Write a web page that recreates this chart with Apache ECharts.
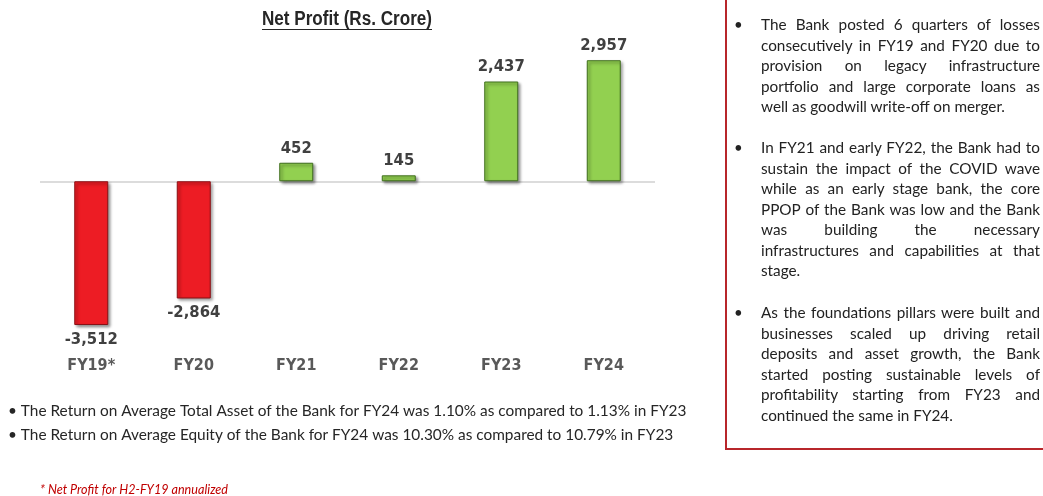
<!DOCTYPE html>
<html>
<head>
<meta charset="utf-8">
<script src="https://cdn.jsdelivr.net/npm/echarts@6/dist/echarts.min.js"></script>
<style>
  html, body { margin:0; padding:0; background:#fff; }
  #wrap { position:relative; width:1043px; height:496px; overflow:hidden; }
  #chart { position:absolute; left:0; top:0; width:1043px; height:496px; }
  #panel { position:absolute; left:725px; top:-10px; width:340px; height:460px;
           border:2px solid #b8262b; box-sizing:border-box; }
  .para { position:absolute; left:761px; width:279px; font-family:Lato, "Open Sans", sans-serif;
          font-size:15.3px; line-height:20.5px; color:#222; }
  .ln { text-align:justify; text-align-last:justify; white-space:nowrap; }
  .ln.last { text-align-last:left; }
  .bul { position:absolute; left:734px; font-family:Lato, sans-serif; font-size:15px; color:#222; }
</style>
</head>
<body>
<div id="wrap">
  <div id="chart"></div>
  <div id="panel"></div>
</div>
<script>
// ---- data ----
const categories = ['FY19*', 'FY20', 'FY21', 'FY22', 'FY23', 'FY24'];
const netProfit = [-3512, -2864, 452, 145, 2437, 2957];
const titleText = 'Net Profit (Rs. Crore)';
const bottomNotes = [
  '\u2022 The Return on Average Total Asset of the Bank for FY24 was 1.10% as compared to 1.13% in FY23',
  '\u2022 The Return on Average Equity of the Bank for FY24 was 10.30% as compared to 10.79% in FY23'
];
const footnote = '* Net Profit for H2-FY19 annualized';
const panelParas = [
  ['The Bank posted 6 quarters of losses', 'consecutively in FY19 and FY20 due to', 'provision on legacy infrastructure',
   'portfolio and large corporate loans as', 'well as goodwill write-off on merger.'],
  ['In FY21 and early FY22, the Bank had to', 'sustain the impact of the COVID wave', 'while as an early stage bank, the core',
   'PPOP of the Bank was low and the Bank', 'was building the necessary', 'infrastructures and capabilities at that', 'stage.'],
  ['As the foundations pillars were built and', 'businesses scaled up driving retail', 'deposits and asset growth, the Bank',
   'started posting sustainable levels of', 'profitability starting from FY23 and', 'continued the same in FY24.']
];

// ---- side panel (HTML justified text) ----
const wrap = document.getElementById('wrap');
const paraTops = [14, 137, 302];
panelParas.forEach((lines, pi) => {
  const d = document.createElement('div');
  d.className = 'para';
  d.style.top = paraTops[pi] + 'px';
  lines.forEach((t, i) => {
    const l = document.createElement('div');
    l.className = 'ln' + (i === lines.length - 1 ? ' last' : '');
    l.textContent = t;
    d.appendChild(l);
  });
  wrap.appendChild(d);
  const b = document.createElement('div');
  b.className = 'bul';
  b.style.top = (paraTops[pi] + 1) + 'px';
  b.textContent = '\u2022';
  wrap.appendChild(b);
});

// ---- chart ----
const narrow = '"Liberation Sans Narrow", "DejaVu Sans Condensed", "Liberation Sans", sans-serif';
const chart = echarts.init(document.getElementById('chart'), null, { renderer: 'canvas' });

const titleFont = 'bold 20px "Liberation Sans", Arial, sans-serif';
const cv = document.createElement('canvas').getContext('2d');
cv.font = titleFont;
const tw = cv.measureText(titleText).width;
const targetW = 170;
const sx = targetW / tw;
const tcx = 347;

const fmt = v => v.toLocaleString('en-US');

chart.setOption({
  animation: false,
  grid: { left: 40, width: 615, top: 38, height: 307 },
  xAxis: {
    type: 'category', data: categories,
    axisLine: { show: false }, axisTick: { show: false },
    axisLabel: { margin: 13, color: '#595959', fontSize: 16, fontWeight: 'bold', fontFamily: narrow }
  },
  yAxis: { type: 'value', min: -4000, max: 3500, show: false, splitLine: { show: false } },
  series: [{
    type: 'bar', barWidth: 34,
    data: netProfit.map(v => ({
      value: v,
      itemStyle: v < 0
        ? { color: '#ED1C24', borderColor: '#8a1015', borderWidth: 1 }
        : { color: '#92D050', borderColor: '#3f6e1c', borderWidth: 1 },
      label: { position: v < 0 ? 'bottom' : 'top' }
    })),
    itemStyle: { shadowColor: 'rgba(0,0,0,0.45)', shadowBlur: 3, shadowOffsetX: 2, shadowOffsetY: 2 },
    label: {
      show: true, distance: 6, color: '#404040', fontSize: 16.5, fontWeight: 'bold', fontFamily: narrow,
      formatter: p => fmt(p.value)
    },
    markLine: {
      silent: true, symbol: ['none', 'none'], label: { show: false }, z: 1,
      lineStyle: { color: '#d0d0d0', width: 1.5, type: 'solid' },
      data: [{ yAxis: 0 }]
    }
  }],
  graphic: [
    { type: 'text', x: tcx - targetW / 2, y: 9, scaleX: sx,
      style: { text: titleText, font: titleFont, fill: '#262626' } },
    { type: 'line', shape: { x1: tcx - targetW / 2, y1: 29.5, x2: tcx + targetW / 2, y2: 29.5 },
      style: { stroke: '#262626', lineWidth: 1.2 } },
    { type: 'text', left: 8, top: 404,
      style: { text: bottomNotes[0], font: '15.4px Lato, "Open Sans", sans-serif', fill: '#262626' } },
    { type: 'text', left: 8, top: 428,
      style: { text: bottomNotes[1], font: '15.4px Lato, "Open Sans", sans-serif', fill: '#262626' } },
    { type: 'text', left: 40, top: 483,
      style: { text: footnote, font: 'italic 12.6px Lato, "Open Sans", sans-serif', fill: '#c00000' } }
  ]
});
</script>
</body>
</html>
